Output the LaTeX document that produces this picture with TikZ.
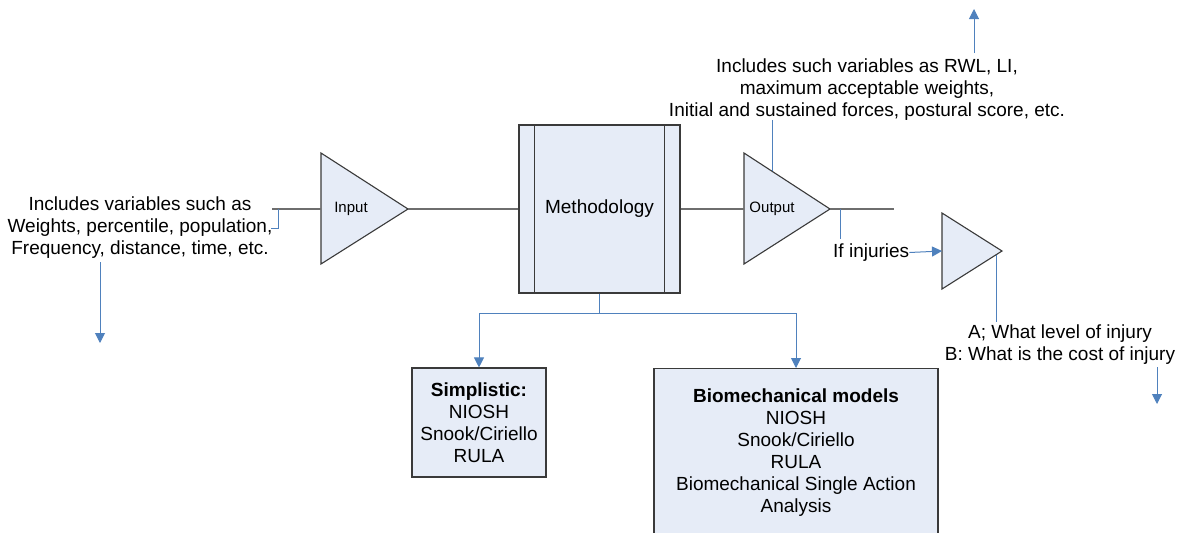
\documentclass[tikz,border=0pt]{standalone}
\usepackage{fontspec}
\setmainfont{Liberation Sans}
\usetikzlibrary{arrows.meta,calc}
\definecolor{boxfill}{HTML}{E6ECF7}
\definecolor{callout}{HTML}{4F81BD}
\definecolor{flow}{HTML}{6E6E6E}
\definecolor{edge}{HTML}{3A3A3A}
\begin{document}
\begin{tikzpicture}[x=1pt,y=-1pt,
  txt/.style={font=\fontsize{19}{22}\selectfont, align=center, inner sep=0pt},
  small/.style={font=\fontsize{15}{18}\selectfont, inner sep=0pt},
  flowline/.style={draw=flow, line width=1.1pt},
  callline/.style={draw=callout, line width=1pt},
  callarrow/.style={callline, -{Triangle[width=10pt,length=10pt]}},
  solid shape/.style={fill=boxfill, draw=edge, line width=1.1pt},
  boxnode/.style={fill=boxfill, draw=edge, line width=1.1pt, inner sep=0pt}]
\useasboundingbox (0,0) rectangle (1184,533);

% --- input amplifier ---
\coordinate (itop) at (321,153);
\coordinate (ibot) at (321,264);
\coordinate (iapex) at (408,209);
\coordinate (iin) at (321,209);
\draw[solid shape] (itop) -- (iapex) -- (ibot) -- cycle;
\node[small] (input) at (351,209) {Input};

% --- methodology block ---
\node[boxnode, minimum width=161pt, minimum height=168pt] (meth) at (599.5,209) {};
\draw[draw=edge, line width=1.1pt] ($(meth.north west)+(16,0)$) -- ($(meth.south west)+(16,0)$);
\draw[draw=edge, line width=1.1pt] ($(meth.north east)+(-16,0)$) -- ($(meth.south east)+(-16,0)$);
\node[txt] (methlabel) at (599.5,209) {Methodology};

% --- output amplifier ---
\coordinate (otop) at (744,153);
\coordinate (obot) at (744,264);
\coordinate (oapex) at (830,209);
\coordinate (oin) at (744,209);
\draw[solid shape] (otop) -- (oapex) -- (obot) -- cycle;
\node[small] (output) at (772,209) {Output};

% --- injury amplifier ---
\coordinate (jtop) at (942,213);
\coordinate (jbot) at (942,289);
\coordinate (japex) at (1002,251);
\coordinate (jin) at (942,251);
\draw[solid shape] (jtop) -- (japex) -- (jbot) -- cycle;

% --- main signal path ---
\coordinate (feed) at (272,209);
\coordinate (tail) at (894,209);
\draw[flowline] (feed) -- (iin);
\draw[flowline] (iapex) -- (meth.west);
\draw[flowline] (meth.east) -- (oin);
\draw[flowline] (oapex) -- (tail);

% --- input description ---
\node[txt] (intext) at (140,227.5) {Includes variables such as\\Weights, percentile, population,\\Frequency, distance, time, etc.};
\draw[callline] (278,209) -- (278,228) -- (271,228);
\coordinate (inarrowstart) at (100,262);
\coordinate (inarrowend) at (100,343);
\draw[callarrow] (inarrowstart) -- (inarrowend);

% --- output description ---
\node[txt] (outtext) at (867,89.5) {Includes such variables as RWL, LI,\\maximum acceptable weights,\\Initial and sustained forces, postural score, etc.};
\coordinate (otap) at ($(otop)!0.3256!(oapex)$);
\draw[callline] (otap) -- (otap |- 0,120);
\coordinate (uparrowstart) at (974,53);
\coordinate (uparrowend) at (974,9);
\draw[callarrow] (uparrowstart) -- (uparrowend);

% --- injury branch ---
\node[txt, anchor=west] (ifinj) at (833,252.5) {If injuries};
\draw[callline] (840,209) -- (840,239);
\draw[callarrow] (ifinj.east) -- (jin);
\node[txt] (abtext) at (1060,345) {A; What level of injury\\B: What is the cost of injury};
\coordinate (jtap) at ($(japex)!0.1!(jbot)$);
\draw[callline] (jtap) -- (jtap |- 0,322);
\coordinate (dnarrowstart) at (1157,367);
\coordinate (dnarrowend) at (1157,404);
\draw[callarrow] (dnarrowstart) -- (dnarrowend);

% --- method families ---
\node[boxnode, minimum width=134pt, minimum height=109pt] (simp) at (479,422.5) {};
\node[txt] (simptext) at (479,423) {\textbf{Simplistic:}\\NIOSH\\Snook/Ciriello\\RULA};
\node[boxnode, anchor=north, minimum width=284pt, minimum height=180pt] (bio) at (796,368) {};
\node[txt] (biotext) at (796,452.5) {\textbf{Biomechanical models}\\NIOSH\\Snook/Ciriello\\RULA\\Biomechanical Single Action\\Analysis};

\draw[callline] (meth.south) -- ++(0,20) coordinate (split);
\draw[callarrow] (split) -| (simp.north);
\draw[callarrow] (split) -| (bio.north);
\end{tikzpicture}
\end{document}
